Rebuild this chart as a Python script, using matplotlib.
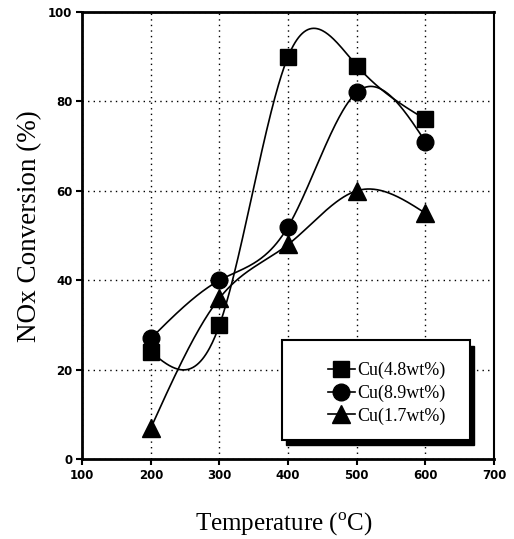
import numpy as np
import matplotlib
matplotlib.use("Agg")
import matplotlib.pyplot as plt
from matplotlib.patches import Rectangle

plt.rcParams['mathtext.fontset'] = 'custom'
plt.rcParams['mathtext.rm'] = 'Liberation Serif'

# NOx conversion vs temperature for three Cu loadings
temperature = [200, 300, 400, 500, 600]
cu_48 = [24, 30, 90, 88, 76]
cu_89 = [27, 40, 52, 82, 71]
cu_17 = [7, 36, 48, 60, 55]
series_labels = ['Cu(4.8wt%)', 'Cu(8.9wt%)', 'Cu(1.7wt%)']
series_markers = ['s', 'o', '^']
x_ticks = [100, 200, 300, 400, 500, 600, 700]
y_ticks = [0, 20, 40, 60, 80, 100]


def natural_spline(x, y, n=300):
    """Smooth curve through the points (natural cubic spline)."""
    x = np.asarray(x, float)
    y = np.asarray(y, float)
    h = np.diff(x)
    k = len(x)
    A = np.zeros((k, k))
    b = np.zeros(k)
    A[0, 0] = A[-1, -1] = 1
    for i in range(1, k - 1):
        A[i, i - 1] = h[i - 1]
        A[i, i] = 2 * (h[i - 1] + h[i])
        A[i, i + 1] = h[i]
        b[i] = 6 * ((y[i + 1] - y[i]) / h[i] - (y[i] - y[i - 1]) / h[i - 1])
    M = np.linalg.solve(A, b)
    xs = np.linspace(x[0], x[-1], n)
    idx = np.clip(np.searchsorted(x, xs) - 1, 0, k - 2)
    x0, x1 = x[idx], x[idx + 1]
    hh = x1 - x0
    a = x1 - xs
    c = xs - x0
    ys = (M[idx] * a ** 3 / (6 * hh) + M[idx + 1] * c ** 3 / (6 * hh)
          + (y[idx] / hh - M[idx] * hh / 6) * a
          + (y[idx + 1] / hh - M[idx + 1] * hh / 6) * c)
    return xs, ys


fig = plt.figure(figsize=(5.14, 5.39), dpi=100)
ax = fig.add_axes([0.160, 0.148, 0.801, 0.830])

handles = []
for vals, lab, mk in zip([cu_48, cu_89, cu_17], series_labels, series_markers):
    ms = 13 if mk == '^' else 12
    xs, ys = natural_spline(temperature, vals)
    ax.plot(xs, ys, color='black', lw=1.2, zorder=3)
    ax.plot(temperature, vals, linestyle='none', marker=mk, color='black',
            markersize=ms, zorder=4)
    h, = ax.plot([], [], color='black', lw=1.2, marker=mk, markersize=ms,
                 label=lab)
    handles.append(h)

ax.set_xlim(100, 700)
ax.set_ylim(0, 100)
ax.set_xticks(x_ticks)
ax.set_yticks(y_ticks)
ax.grid(True, color='black', linestyle=(0, (1, 3)), linewidth=1.0)

tick_font = dict(family='DejaVu Sans', weight='bold', size=8.5)
ax.set_xticklabels([str(v) for v in x_ticks], fontdict=tick_font)
ax.set_yticklabels([str(v) for v in y_ticks], fontdict=tick_font)
ax.tick_params(direction='out', length=4, width=1.5, pad=3)

for side in ['left', 'bottom', 'top']:
    ax.spines[side].set_linewidth(2)
ax.spines['right'].set_linewidth(1.5)

ax.set_ylabel('NOx Conversion (%)', fontdict=dict(family='Liberation Serif', size=19.5))
ax.set_xlabel(r'Temperature ($^{\rm o}$C)', fontdict=dict(family='Liberation Serif', size=18))
ax.yaxis.set_label_coords(-0.098, 0.52)
ax.xaxis.set_label_coords(0.49, -0.115)

# legend box with a solid drop shadow
box = dict(x=391, y=4.3, w=274, h=22.3)
ax.add_patch(Rectangle((box['x'] + 6, box['y'] - 1.2), box['w'], box['h'],
                       facecolor='black', edgecolor='black', zorder=5))
ax.add_patch(Rectangle((box['x'], box['y']), box['w'], box['h'],
                       facecolor='white', edgecolor='black', lw=1.5, zorder=6))
leg = ax.legend(handles=handles, loc='center left', frameon=False,
                bbox_to_anchor=(458, 14.7), bbox_transform=ax.transData,
                borderaxespad=0, borderpad=0, handlelength=1.5,
                handletextpad=0.1, labelspacing=0.3,
                prop=dict(family='Liberation Serif', size=13))
leg.set_zorder(7)

fig.savefig('out.png', dpi=100)
